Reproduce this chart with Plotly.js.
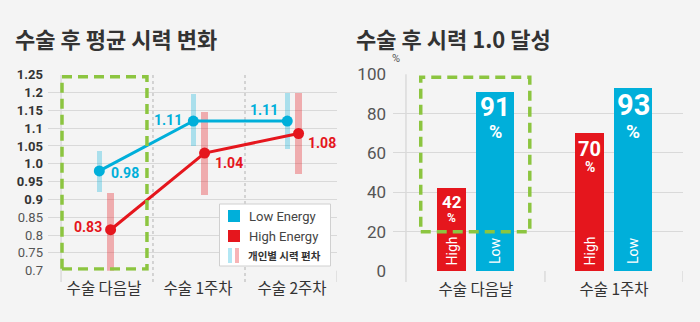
<!DOCTYPE html>
<html>
<head>
<meta charset="utf-8">
<script src="https://cdn.plot.ly/plotly-3.0.1.min.js"></script>
<style>
html,body{margin:0;padding:0;background:#f4f4f4;}
#chart{width:700px;height:322px;}
</style>
</head>
<body>
<div id="chart"></div>
<script>
// ---------- DATA ----------
const titleLeft = '수술 후 평균 시력 변화';
const titleRight = '수술 후 시력 1.0 달성';

const categoriesLeft = ['수술 다음날', '수술 1주차', '수술 2주차'];
const lowMean = [0.98, 1.12, 1.12];
const highMean = [0.815, 1.03, 1.085];
const lowLabels = ['0.98', '1.11', '1.11'];
const highLabels = ['0.83', '1.04', '1.08'];
const lowRangeMin = [0.921, 1.050, 1.042];
const lowRangeMax = [1.036, 1.196, 1.199];
const highRangeMin = [0.69, 0.912, 0.972];
const highRangeMax = [0.918, 1.146, 1.199];
const yTickValsLeft = [0.7, 0.75, 0.8, 0.85, 0.9, 0.95, 1.0, 1.05, 1.1, 1.15, 1.2, 1.25];
const yTickTextLeft = ['0.7', '0.75', '0.8', '0.85', '0.9', '0.95', '1.0', '1.05', '1.1', '1.15', '1.2', '1.25'];
const legendLabels = ['Low Energy', 'High Energy', '개인별 시력 편차'];

const categoriesRight = ['수술 다음날', '수술 1주차'];
const highRate = [42, 70];
const lowRate = [91, 93];
const barTags = ['High', 'Low'];
const yTickValsRight = [0, 20, 40, 60, 80, 100];
const yUnitRight = '%';

// ---------- STYLE ----------
const BLUE = '#00afda';
const RED = '#e5161d';
const BLUE_T = 'rgba(0,175,218,0.30)';
const RED_T = 'rgba(229,22,29,0.32)';
const GREEN = '#8cc540';
const GRID = '#d9d9d9';
const BG = '#f4f4f4';
const NUMFONT = 'Roboto, "DejaVu Sans", sans-serif';
const KRFONT = '"Noto Sans CJK KR", "Noto Sans", sans-serif';

const W = 700, H = 322;
const px = x => x / W;
const py = y => 1 - y / H;

const LOW_OFF = -0.05, HIGH_OFF = 0.07;
const idxL = categoriesLeft.map((_, i) => i);
const idxR = categoriesRight.map((_, i) => i);
const R_HIGH_OFF = -0.174, R_LOW_OFF = 0.138;

const traces = [
  { type: 'bar', x: idxL.map(i => i + LOW_OFF), base: lowRangeMin,
    y: lowRangeMax.map((v, i) => v - lowRangeMin[i]), width: 0.058,
    marker: { color: BLUE_T, line: { width: 0 } }, xaxis: 'x', yaxis: 'y', hoverinfo: 'skip', showlegend: false },
  { type: 'bar', x: idxL.map(i => i + HIGH_OFF), base: highRangeMin,
    y: highRangeMax.map((v, i) => v - highRangeMin[i]), width: 0.07,
    marker: { color: RED_T, line: { width: 0 } }, xaxis: 'x', yaxis: 'y', hoverinfo: 'skip', showlegend: false },
  { type: 'scatter', mode: 'lines+markers', x: idxL.map(i => i + LOW_OFF), y: lowMean,
    line: { color: BLUE, width: 3 }, marker: { color: BLUE, size: 11 }, xaxis: 'x', yaxis: 'y', showlegend: false },
  { type: 'scatter', mode: 'lines+markers', x: idxL.map(i => i + HIGH_OFF), y: highMean,
    line: { color: RED, width: 3 }, marker: { color: RED, size: 11 }, xaxis: 'x', yaxis: 'y', showlegend: false },
  { type: 'bar', x: idxR.map(i => i + R_HIGH_OFF), y: highRate, width: 0.21,
    marker: { color: RED, line: { width: 0 } }, xaxis: 'x2', yaxis: 'y2', hoverinfo: 'skip', showlegend: false },
  { type: 'bar', x: idxR.map(i => i + R_LOW_OFF), y: lowRate, width: 0.275,
    marker: { color: BLUE, line: { width: 0 } }, xaxis: 'x2', yaxis: 'y2', hoverinfo: 'skip', showlegend: false }
];

const annotations = [];
annotations.push({ xref: 'paper', yref: 'paper', x: px(13), y: py(38), xanchor: 'left', yanchor: 'middle',
  text: '<b>' + titleLeft + '</b>', showarrow: false, font: { family: KRFONT, size: 22, color: '#333' } });
annotations.push({ xref: 'paper', yref: 'paper', x: px(354), y: py(38), xanchor: 'left', yanchor: 'middle',
  text: '<b>' + titleRight + '</b>', showarrow: false, font: { family: KRFONT, size: 22, color: '#333' } });
annotations.push({ xref: 'paper', yref: 'paper', x: px(396), y: py(58), xanchor: 'center', yanchor: 'middle',
  text: yUnitRight, showarrow: false, font: { family: NUMFONT, size: 11, color: '#555' } });

// point labels (left)
const lowPlace = [['left', 10, -2], ['right', -9, 1], ['right', -7, 11]];
const highPlace = [['right', -7, 3], ['left', 8, -10], ['left', 7, -9]];
lowLabels.forEach((t, i) => annotations.push({ xref: 'x', yref: 'y', x: i + LOW_OFF, y: lowMean[i],
  xanchor: lowPlace[i][0], yanchor: 'middle', xshift: lowPlace[i][1], yshift: lowPlace[i][2],
  text: '<b>' + t + '</b>', showarrow: false, font: { family: NUMFONT, size: 14, color: BLUE } }));
highLabels.forEach((t, i) => annotations.push({ xref: 'x', yref: 'y', x: i + HIGH_OFF, y: highMean[i],
  xanchor: highPlace[i][0], yanchor: 'middle', xshift: highPlace[i][1], yshift: highPlace[i][2],
  text: '<b>' + t + '</b>', showarrow: false, font: { family: NUMFONT, size: 14, color: RED } }));

// bar labels (right)
const highNumSize = [17, 20], highPctSize = [12, 14], highNumShift = [-14, -16], highPctShift = [-30, -34];
const lowNumSize = [26, 29], lowPctSize = [18, 19], lowNumShift = [-15, -17], lowPctShift = [-39, -43];
highRate.forEach((v, i) => {
  annotations.push({ xref: 'x2', yref: 'y2', x: i + R_HIGH_OFF, y: v, yanchor: 'middle', yshift: highNumShift[i],
    text: '<b>' + v + '</b>', showarrow: false, font: { family: NUMFONT, size: highNumSize[i], color: '#fff' } });
  annotations.push({ xref: 'x2', yref: 'y2', x: i + R_HIGH_OFF, y: v, yanchor: 'middle', yshift: highPctShift[i],
    text: '<b>%</b>', showarrow: false, font: { family: NUMFONT, size: highPctSize[i], color: '#fff' } });
  annotations.push({ xref: 'x2', yref: 'y2', x: i + R_HIGH_OFF, y: 0, yanchor: 'middle', yshift: 20.5,
    text: barTags[0], textangle: -90, showarrow: false, font: { family: NUMFONT, size: 14, color: '#fff' } });
});
lowRate.forEach((v, i) => {
  annotations.push({ xref: 'x2', yref: 'y2', x: i + R_LOW_OFF, y: v, yanchor: 'middle', yshift: lowNumShift[i],
    text: '<b>' + v + '</b>', showarrow: false, font: { family: NUMFONT, size: lowNumSize[i], color: '#fff' } });
  annotations.push({ xref: 'x2', yref: 'y2', x: i + R_LOW_OFF, y: v, yanchor: 'middle', yshift: lowPctShift[i],
    text: '<b>%</b>', showarrow: false, font: { family: NUMFONT, size: lowPctSize[i], color: '#fff' } });
  annotations.push({ xref: 'x2', yref: 'y2', x: i + R_LOW_OFF, y: 0, yanchor: 'middle', yshift: 20,
    text: barTags[1], textangle: -90, showarrow: false, font: { family: NUMFONT, size: 14, color: '#fff' } });
});

// legend texts
annotations.push({ xref: 'paper', yref: 'paper', x: px(247), y: py(216), xanchor: 'left', yanchor: 'middle',
  text: legendLabels[0], showarrow: false, font: { family: NUMFONT, size: 13, color: '#444' } });
annotations.push({ xref: 'paper', yref: 'paper', x: px(247), y: py(236), xanchor: 'left', yanchor: 'middle',
  text: legendLabels[1], showarrow: false, font: { family: NUMFONT, size: 13, color: '#444' } });
annotations.push({ xref: 'paper', yref: 'paper', x: px(246), y: py(255), xanchor: 'left', yanchor: 'middle',
  text: '<b>' + legendLabels[2] + '</b>', showarrow: false, font: { family: KRFONT, size: 10.5, color: '#333' } });

const shapes = [
  { type: 'line', xref: 'x', yref: 'paper', x0: -0.457, x1: -0.457, y0: py(282), y1: py(75), line: { color: '#cfcfcf', width: 1 }, layer: 'below' },
  { type: 'line', xref: 'x', yref: 'paper', x0: 0.521, x1: 0.521, y0: py(282), y1: py(75), line: { color: '#c8c8c8', width: 1.5, dash: '3px,3px' }, layer: 'below' },
  { type: 'line', xref: 'x', yref: 'paper', x0: 1.5, x1: 1.5, y0: py(282), y1: py(75), line: { color: '#c8c8c8', width: 1.5, dash: '3px,3px' }, layer: 'below' },
  { type: 'line', xref: 'x', yref: 'paper', x0: 2.479, x1: 2.479, y0: py(282), y1: py(270.7), line: { color: '#cfcfcf', width: 1 } },
  { type: 'rect', xref: 'x', yref: 'y', x0: -0.447, x1: 0.457, y0: 0.705, y1: 1.244, line: { color: GREEN, width: 3.5, dash: '10px,6px' }, layer: 'above' },
  { type: 'line', xref: 'x2', yref: 'paper', x0: -0.507, x1: -0.507, y0: py(282), y1: py(74.3), line: { color: '#cfcfcf', width: 1 }, layer: 'below' },
  { type: 'line', xref: 'x2', yref: 'paper', x0: 0.5, x1: 0.5, y0: py(282), y1: py(271), line: { color: '#cfcfcf', width: 1 } },
  { type: 'line', xref: 'x2', yref: 'paper', x0: 1.5, x1: 1.5, y0: py(282), y1: py(271), line: { color: '#cfcfcf', width: 1 } },
  { type: 'rect', xref: 'x2', yref: 'y2', x0: -0.40, x1: 0.39, y0: 20, y1: 98.5, line: { color: GREEN, width: 3.5, dash: '10px,6px' }, layer: 'above' },
  { type: 'rect', xref: 'paper', yref: 'paper', x0: px(219.5), x1: px(330.5), y0: py(266), y1: py(204), fillcolor: '#ffffff', line: { color: '#d0d0d0', width: 1 } },
  { type: 'rect', xref: 'paper', yref: 'paper', x0: px(228), x1: px(240), y0: py(222), y1: py(210), fillcolor: BLUE, line: { width: 0 } },
  { type: 'rect', xref: 'paper', yref: 'paper', x0: px(228), x1: px(240), y0: py(242), y1: py(230), fillcolor: RED, line: { width: 0 } },
  { type: 'rect', xref: 'paper', yref: 'paper', x0: px(228), x1: px(232), y0: py(263), y1: py(248), fillcolor: BLUE_T, line: { width: 0 } },
  { type: 'rect', xref: 'paper', yref: 'paper', x0: px(235), x1: px(239), y0: py(263), y1: py(248), fillcolor: RED_T, line: { width: 0 } }
];

const yTickTextStyled = yTickTextLeft.map((t, i) => yTickValsLeft[i] >= 0.9 ? '<b>' + t + '</b>' : '<span style="color:#555">' + t + '</span>');

const layout = {
  width: W, height: H,
  margin: { l: 0, r: 0, t: 0, b: 0 },
  paper_bgcolor: BG, plot_bgcolor: BG,
  barmode: 'overlay', bargap: 0,
  showlegend: false,
  xaxis: { domain: [px(48), px(337)], range: [-0.596, 2.479], tickvals: idxL, ticktext: categoriesLeft,
    showgrid: false, zeroline: false, showline: false, ticks: '', ticklabelstandoff: 7,
    tickfont: { family: KRFONT, size: 15.5, color: '#333' }, fixedrange: true },
  yaxis: { domain: [py(270.7), py(74.7)], range: [0.7, 1.25], tickvals: yTickValsLeft, ticktext: yTickTextStyled,
    showgrid: true, gridcolor: GRID, gridwidth: 1, zeroline: false, showline: false, ticks: '', ticklabelstandoff: 4,
    tickfont: { family: NUMFONT, size: 13, color: '#333' }, fixedrange: true },
  xaxis2: { domain: [px(393), px(683)], range: [-0.601, 1.5], tickvals: idxR, ticktext: categoriesRight,
    showgrid: false, zeroline: false, showline: false, ticks: '', ticklabelstandoff: 7, anchor: 'y2',
    tickfont: { family: KRFONT, size: 15.5, color: '#333' }, fixedrange: true },
  yaxis2: { domain: [py(271), py(74.3)], range: [0, 100], tickvals: yTickValsRight,
    showgrid: true, gridcolor: GRID, gridwidth: 1, zeroline: false, showline: false, ticks: '', ticklabelstandoff: 6, anchor: 'x2',
    tickfont: { family: NUMFONT, size: 17, color: '#555' }, fixedrange: true },
  annotations: annotations,
  shapes: shapes
};

Plotly.newPlot('chart', traces, layout, { displayModeBar: false, staticPlot: true });
</script>
</body>
</html>
